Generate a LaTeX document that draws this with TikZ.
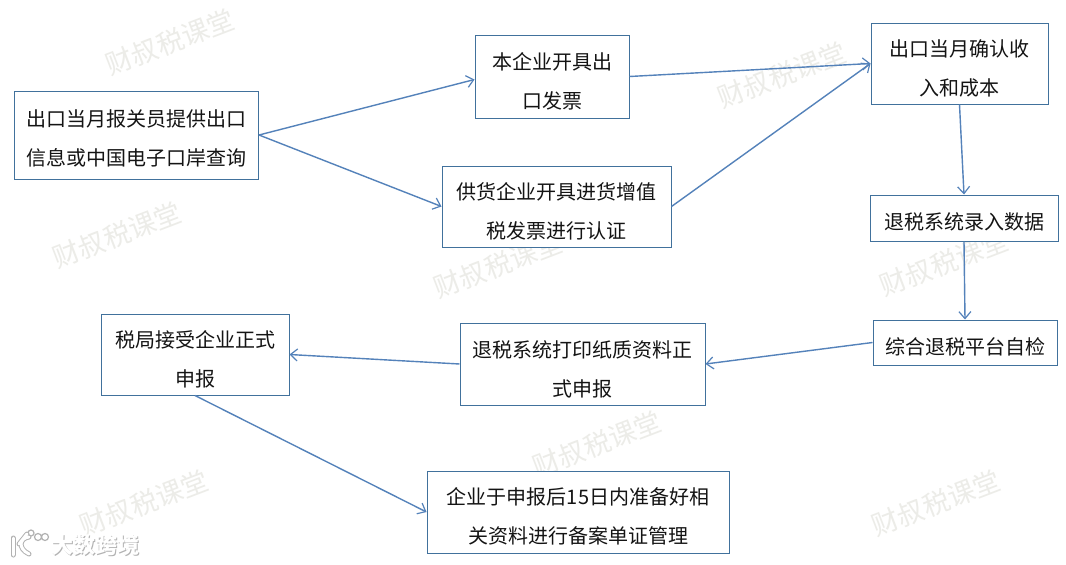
\documentclass[tikz,border=0pt]{standalone}
\usepackage{fontspec}
\usepackage{xcolor}
\usepackage{tikz}
\usetikzlibrary{arrows.meta, positioning, calc}
\setmainfont{Noto Sans CJK SC}
\definecolor{flowblue}      {RGB}{84,  130,  186}
\definecolor{flowedge}      {RGB}{65,  113,  156}
\definecolor{flowtext}      {RGB}{20,   20,   20}
\definecolor{markgray}      {RGB}{236, 236,  232}
\newcommand{\flowrows}[2][5pt]{\raisebox{-#1}[\height][\depth]{\begin{tabular}{@{}c@{}}#2\end{tabular}}}
\tikzset{
	flowbox/.style={draw=flowedge, line width=1pt, fill=white, text=flowtext,
		inner sep=0pt, font=\fontsize{20}{39}\selectfont},
	flowline/.style={draw=flowblue, line width=1.4pt, -{Straight Barb[length=7pt,width=12pt,line width=1.2pt]}},
	watermark/.style={text=markgray, rotate=21, inner sep=0pt, font=\fontsize{27}{27}\selectfont},
	logotext/.style={inner sep=0pt, font=\fontsize{22}{22}\selectfont\bfseries},
	logoshade/.style={draw=black!30, line cap=round, line width=5pt},
	logotop/.style={draw=white, line cap=round, line width=3pt}
}

\begin{document}
\begin{tikzpicture}[x=1pt,y=-1pt]
	\useasboundingbox (0,0) rectangle (1066,565);
	\fill[white] (0,0) rectangle (1066,565);
	% watermarks
	\node[watermark] (markone) at (170,42) {财叔税课堂};
	\node[watermark] (marktwo) at (117,235) {财叔税课堂};
	\node[watermark] (markthree) at (498,265) {财叔税课堂};
	\node[watermark] (markfour) at (782,75) {财叔税课堂};
	\node[watermark] (markfive) at (944,263) {财叔税课堂};
	\node[watermark] (marksix) at (597,444) {财叔税课堂};
	\node[watermark] (markseven) at (144,503) {财叔税课堂};
	\node[watermark] (markeight) at (936,503) {财叔税课堂};
	% logo
	\node[logotext, text=black!30] (logoshade) at (96.5,546) {大数跨境};
	\node[logotext, text=white] (logotop) at (95.5,545) {大数跨境};
	\draw[logoshade] (13,538)--(13,555);
	\draw[logoshade] (29,537) .. controls (20,538) and (17,548) .. (29,554);
	\draw[logoshade] (19,544) -- (27,534);
	\draw[black!30, line width=1.2pt] (31,533) circle (3) (38,537) circle (3.5) (45,537) circle (3.5);
	\draw[logotop] (13,538)--(13,555);
	\draw[logotop] (29,537) .. controls (20,538) and (17,548) .. (29,554);
	\draw[logotop] (19,544) -- (27,534);
	% boxes
	\node[flowbox, minimum width=244pt, minimum height=88pt] (report) at (136.5,135) {\flowrows[3pt]{出口当月报关员提供出口\\信息或中国电子口岸查询}};
	\node[flowbox, minimum width=154pt, minimum height=83pt] (invoice) at (552,76.5) {\flowrows{本企业开具出\\口发票}};
	\node[flowbox, minimum width=229pt, minimum height=81pt] (supplier) at (556.5,206.5) {\flowrows{供货企业开具进货增值\\税发票进行认证}};
	\node[flowbox, minimum width=177pt, minimum height=81pt] (income) at (959.5,63.5) {\flowrows{出口当月确认收\\入和成本}};
	\node[flowbox, minimum width=188pt, minimum height=46pt] (entry) at (964,218) {\flowrows[4pt]{退税系统录入数据}};
	\node[flowbox, minimum width=184pt, minimum height=45pt] (check) at (965,342.5) {\flowrows[4pt]{综合退税平台自检}};
	\node[flowbox, minimum width=245pt, minimum height=82pt] (print) at (582.5,364) {\flowrows{退税系统打印纸质资料正\\式申报}};
	\node[flowbox, minimum width=188pt, minimum height=81pt] (bureau) at (195,354.5) {\flowrows{税局接受企业正式\\申报}};
	\node[flowbox, minimum width=302pt, minimum height=82pt] (record) at (578,512) {\flowrows[4pt]{企业于申报后15日内准备好相\\关资料进行备案单证管理}};
	% connectors
	\draw[flowline] (report.east) -- ([yshift=-3pt]invoice.west);
	\draw[flowline] (report.east) -- (supplier.west);
	\draw[flowline] (invoice.east) -- (income.west);
	\draw[flowline] (supplier.east) -- (income.west);
	\draw[flowline] (income.south) -- (entry.north);
	\draw[flowline] (entry.south) -- (check.north);
	\draw[flowline] (check.west) -- (print.east);
	\draw[flowline] (print.west) -- (bureau.east);
	\draw[flowline] (bureau.south) -- (record.west);
\end{tikzpicture}
\end{document}
